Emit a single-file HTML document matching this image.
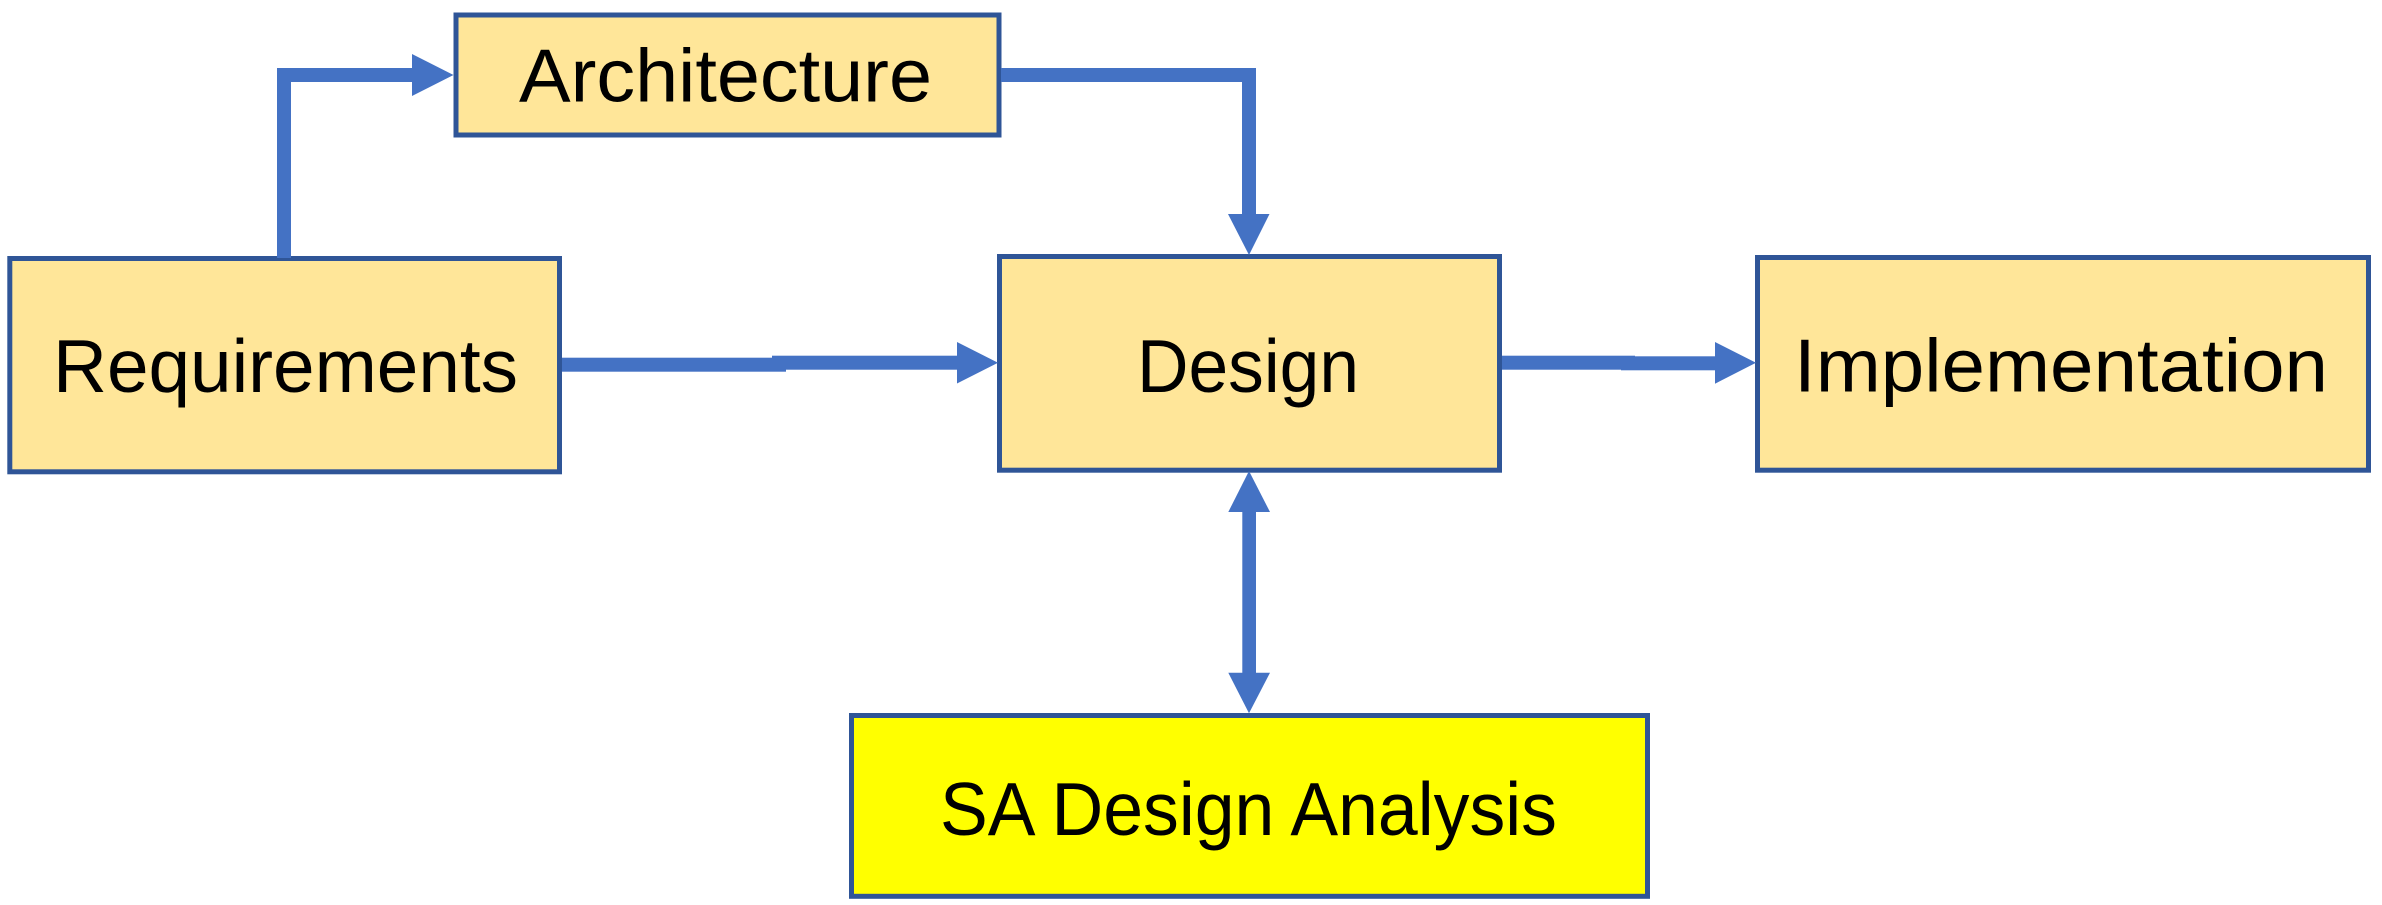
<!DOCTYPE html>
<html>
<head>
<meta charset="utf-8">
<style>
html,body{margin:0;padding:0;background:#ffffff;}
svg{display:block;}
text{font-family:"Liberation Sans",Arial,sans-serif;fill:#000;}
</style>
</head>
<body>
<svg width="2382" height="905" viewBox="0 0 2382 905" xmlns="http://www.w3.org/2000/svg">
  <rect x="0" y="0" width="2382" height="905" fill="#ffffff"/>

  <!-- Boxes -->
  <rect x="456" y="15" width="543" height="120" fill="#FFE699" stroke="#2F5597" stroke-width="5"/>
  <rect x="9.8" y="258.5" width="549.7" height="213.3" fill="#FFE699" stroke="#2F5597" stroke-width="5"/>
  <rect x="999.5" y="256.5" width="500" height="213.7" fill="#FFE699" stroke="#2F5597" stroke-width="5"/>
  <rect x="1757.5" y="257.5" width="611" height="212.7" fill="#FFE699" stroke="#2F5597" stroke-width="5"/>
  <rect x="851.5" y="715.5" width="796" height="180.8" fill="#FFFF00" stroke="#2F5597" stroke-width="5"/>

  <!-- Arrows -->
  <g fill="#4472C4">
    <!-- Requirements -> Architecture -->
    <rect x="277" y="68" width="14" height="190"/>
    <rect x="277" y="68" width="136" height="14"/>
    <polygon points="412,54 453.5,75 412,96"/>

    <!-- Architecture -> Design -->
    <rect x="1001" y="68" width="255" height="14"/>
    <rect x="1242" y="68" width="14" height="147"/>
    <polygon points="1228,214 1269.5,214 1249,255"/>

    <!-- Requirements -> Design -->
    <rect x="562" y="357.7" width="224" height="14"/>
    <rect x="772" y="355.7" width="186" height="14"/>
    <polygon points="957,342 998,362.7 957,383.5"/>

    <!-- Design -> Implementation -->
    <rect x="1502" y="355.7" width="133" height="14"/>
    <rect x="1621" y="356.3" width="95" height="14"/>
    <polygon points="1715,342 1756,362.7 1715,383.7"/>

    <!-- Design <-> SA Design Analysis -->
    <rect x="1242.3" y="510" width="13.7" height="164"/>
    <polygon points="1249,471 1228.3,512 1270,512"/>
    <polygon points="1228.3,672.7 1270,672.7 1249,713.3"/>
  </g>

  <!-- Labels -->
  <text x="519" y="101.7" font-size="75" textLength="413" lengthAdjust="spacingAndGlyphs">Architecture</text>
  <text x="53" y="392" font-size="75" textLength="465" lengthAdjust="spacingAndGlyphs">Requirements</text>
  <text x="1137" y="392" font-size="75" textLength="222" lengthAdjust="spacingAndGlyphs">Design</text>
  <text x="1794" y="391.5" font-size="75" textLength="534" lengthAdjust="spacingAndGlyphs">Implementation</text>
  <text x="940" y="835" font-size="75" textLength="617" lengthAdjust="spacingAndGlyphs">SA Design Analysis</text>
</svg>
</body>
</html>
